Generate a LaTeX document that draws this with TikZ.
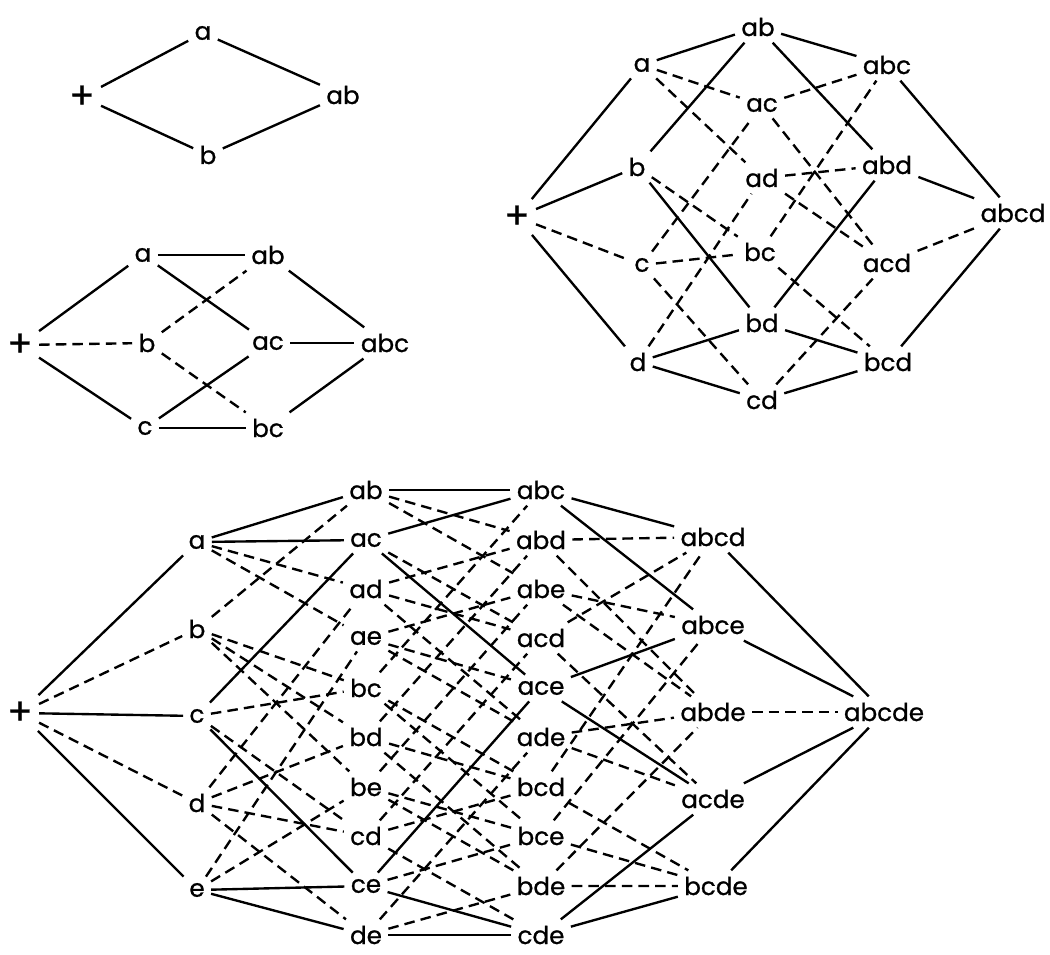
\documentclass[tikz,border=0pt]{standalone}
\usepackage{fontspec}
\setmainfont{Poppins}[FakeBold=0.9]
\tikzset{
  hid/.style={dash pattern=on 6pt off 3.5pt},
  zero/.style={font=\fontsize{21}{23}\selectfont},
}
\begin{document}
\begin{tikzpicture}[x=0.02cm,y=-0.02cm,line width=1.35pt,
    every node/.style={inner sep=3pt,font=\fontsize{14}{16}\selectfont}]
  \useasboundingbox (0,0) rectangle (1050,954);

  % two letters
  \node[zero] (o2) at (82,97) {+};
  \node (a2) at (203,33) {a};
  \node (b2) at (208,155) {b};
  \node (ab2) at (343,95) {ab};

  \draw (o2) -- (a2);
  \draw (o2) -- (b2);
  \draw (a2) -- (ab2);
  \draw (b2) -- (ab2);

  % three letters
  \node[zero] (o3) at (20,345) {+};
  \node (a3) at (143,255) {a};
  \node (b3) at (147,343) {b};
  \node (c3) at (145,428) {c};
  \node (ab3) at (268,255) {ab};
  \node (ac3) at (268,343) {ac};
  \node (bc3) at (268,428) {bc};
  \node (abc3) at (385,343) {abc};

  \draw (o3) -- (a3);
  \draw (o3) -- (c3);
  \draw[hid] (o3) -- (b3);
  \draw (a3) -- (ab3);
  \draw (a3) -- (ac3);
  \draw[hid] (b3) -- (ab3);
  \draw[hid] (b3) -- (bc3);
  \draw (c3) -- (ac3);
  \draw (c3) -- (bc3);
  \draw (ab3) -- (abc3);
  \draw (ac3) -- (abc3);
  \draw (bc3) -- (abc3);

  % four letters
  \node[zero] (o4) at (517,217) {+};
  \node (a4) at (642,65) {a};
  \node (b4) at (637,167) {b};
  \node (c4) at (642,265) {c};
  \node (d4) at (638,362) {d};
  \node (ab4) at (758,27) {ab};
  \node (ac4) at (762,105) {ac};
  \node (ad4) at (762,178) {ad};
  \node (bc4) at (760,252) {bc};
  \node (bd4) at (762,323) {bd};
  \node (cd4) at (762,400) {cd};
  \node (abc4) at (887,65) {abc};
  \node (abd4) at (887,165) {abd};
  \node (acd4) at (887,263) {acd};
  \node (bcd4) at (888,362) {bcd};
  \node (abcd4) at (1013,213) {abcd};

  \draw (o4) -- (a4) (o4) -- (b4) (o4) -- (d4);
  \draw[hid] (o4) -- (c4);
  \draw (a4) -- (ab4);
  \draw[hid] (a4) -- (ac4) (a4) -- (ad4);
  \draw (b4) -- (ab4) (b4) -- (bd4);
  \draw[hid] (b4) -- (bc4);
  \draw[hid] (c4) -- (ac4) (c4) -- (bc4) (c4) -- (cd4);
  \draw (d4) -- (bd4) (d4) -- (cd4);
  \draw[hid] (d4) -- (ad4);
  \draw (ab4) -- (abc4) (ab4) -- (abd4);
  \draw[hid] (ac4) -- (abc4) (ac4) -- (acd4);
  \draw[hid] (ad4) -- (abd4) (ad4) -- (acd4);
  \draw[hid] (bc4) -- (abc4) (bc4) -- (bcd4);
  \draw (bd4) -- (abd4) (bd4) -- (bcd4);
  \draw (cd4) -- (bcd4);
  \draw[hid] (cd4) -- (acd4);
  \draw (abc4) -- (abcd4) (abd4) -- (abcd4) (bcd4) -- (abcd4);
  \draw[hid] (acd4) -- (abcd4);

  % five letters
  \node[zero] (o5) at (20,713) {+};
  \node (a5) at (197,542) {a};
  \node (b5) at (197,629) {b};
  \node (c5) at (197,716) {c};
  \node (d5) at (197,803) {d};
  \node (e5) at (197,890) {e};
  \node (ab5) at (366,490) {ab};
  \node (ac5) at (366,540) {ac};
  \node (ad5) at (366,589) {ad};
  \node (ae5) at (366,638) {ae};
  \node (bc5) at (366,688) {bc};
  \node (bd5) at (366,737) {bd};
  \node (be5) at (366,787) {be};
  \node (cd5) at (366,836) {cd};
  \node (ce5) at (366,886) {ce};
  \node (de5) at (366,935) {de};
  \node (abc5) at (541,490) {abc};
  \node (abd5) at (541,540) {abd};
  \node (abe5) at (541,589) {abe};
  \node (acd5) at (541,638) {acd};
  \node (ace5) at (541,688) {ace};
  \node (ade5) at (541,737) {ade};
  \node (bcd5) at (541,787) {bcd};
  \node (bce5) at (541,836) {bce};
  \node (bde5) at (541,886) {bde};
  \node (cde5) at (541,935) {cde};
  \node (abcd5) at (713,537) {abcd};
  \node (abce5) at (713,625) {abce};
  \node (abde5) at (713,712) {abde};
  \node (acde5) at (713,799) {acde};
  \node (bcde5) at (716,886) {bcde};
  \node (abcde5) at (884,712) {abcde};

  \draw (o5) -- (a5) (o5) -- (c5) (o5) -- (e5);
  \draw[hid] (o5) -- (b5) (o5) -- (d5);
  \draw (a5) -- (ab5) (a5) -- (ac5);
  \draw[hid] (a5) -- (ad5) (a5) -- (ae5);
  \draw[hid] (b5) -- (ab5) (b5) -- (bc5) (b5) -- (bd5) (b5) -- (be5);
  \draw (c5) -- (ac5) (c5) -- (ce5);
  \draw[hid] (c5) -- (bc5) (c5) -- (cd5);
  \draw[hid] (d5) -- (ad5) (d5) -- (bd5) (d5) -- (cd5) (d5) -- (de5);
  \draw (e5) -- (ce5) (e5) -- (de5);
  \draw[hid] (e5) -- (ae5) (e5) -- (be5);
  \draw (ab5) -- (abc5);
  \draw[hid] (ab5) -- (abd5) (ab5) -- (abe5);
  \draw (ac5) -- (abc5) (ac5) -- (ace5);
  \draw[hid] (ac5) -- (acd5);
  \draw[hid] (ad5) -- (abd5) (ad5) -- (acd5) (ad5) -- (ade5);
  \draw[hid] (ae5) -- (abe5) (ae5) -- (ace5) (ae5) -- (ade5);
  \draw[hid] (bc5) -- (abc5) (bc5) -- (bcd5) (bc5) -- (bce5);
  \draw[hid] (bd5) -- (abd5) (bd5) -- (bcd5) (bd5) -- (bde5);
  \draw[hid] (be5) -- (abe5) (be5) -- (bce5) (be5) -- (bde5);
  \draw[hid] (cd5) -- (acd5) (cd5) -- (bcd5) (cd5) -- (cde5);
  \draw (ce5) -- (ace5) (ce5) -- (cde5);
  \draw[hid] (ce5) -- (bce5);
  \draw (de5) -- (cde5);
  \draw[hid] (de5) -- (ade5) (de5) -- (bde5);
  \draw (abc5) -- (abcd5) (abc5) -- (abce5);
  \draw[hid] (abd5) -- (abcd5) (abd5) -- (abde5);
  \draw[hid] (abe5) -- (abce5) (abe5) -- (abde5);
  \draw[hid] (acd5) -- (abcd5) (acd5) -- (acde5);
  \draw (ace5) -- (abce5) (ace5) -- (acde5);
  \draw[hid] (ade5) -- (abde5) (ade5) -- (acde5);
  \draw[hid] (bcd5) -- (abcd5) (bcd5) -- (bcde5);
  \draw[hid] (bce5) -- (abce5) (bce5) -- (bcde5);
  \draw[hid] (bde5) -- (abde5) (bde5) -- (bcde5);
  \draw (cde5) -- (acde5) (cde5) -- (bcde5);
  \draw (abcd5) -- (abcde5) (abce5) -- (abcde5) (acde5) -- (abcde5) (bcde5) -- (abcde5);
  \draw[hid] (abde5) -- (abcde5);
\end{tikzpicture}
\end{document}
